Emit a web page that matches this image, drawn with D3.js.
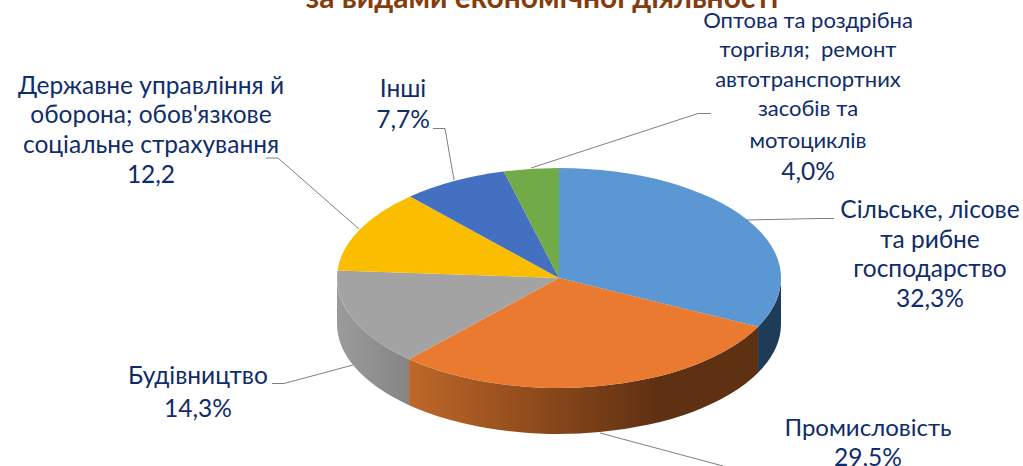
<!DOCTYPE html>
<html>
<head>
<meta charset="utf-8">
<script src="https://cdn.jsdelivr.net/npm/d3@7"></script>
<style>
  html, body { margin: 0; padding: 0; background: #fff; overflow: hidden; }
  svg { display: block; }
  .label { font-family: Lato, "Open Sans", sans-serif; fill: #0f2c6b; text-anchor: middle; }
  .leader { fill: none; stroke: #7f7f7f; stroke-width: 1; }
</style>
</head>
<body>
<script>
const categories = ['Сільське, лісове та рибне господарство', 'Промисловість', 'Будівництво',
  'Державне управління й оборона; обов\'язкове соціальне страхування', 'Інші',
  'Оптова та роздрібна торгівля; ремонт автотранспортних засобів та мотоциклів'];
const values = [32.3, 29.5, 14.3, 12.2, 7.7, 4.0];
const valueLabels = ['32,3%', '29,5%', '14,3%', '12,2', '7,7%', '4,0%'];
const colors = ['#5b98d3', '#e97a30', '#a3a3a3', '#fbbd00', '#4370c0', '#70ab47'];
const titleText = 'за видами економічної діяльності';

const width = 1023, height = 466;
const cx = 559, cy = 278, rx = 222, ry = 110, depth = 46;

const svg = d3.select(document.body).append('svg')
  .attr('width', width)
  .attr('height', height);

const defs = svg.append('defs');

function addGradient(id, stops) {
  const g = defs.append('linearGradient')
    .attr('id', id)
    .attr('gradientUnits', 'userSpaceOnUse')
    .attr('x1', cx - rx).attr('x2', cx + rx)
    .attr('y1', 0).attr('y2', 0);
  stops.forEach(s => g.append('stop').attr('offset', s[0]).attr('stop-color', s[1]));
}
addGradient('wall0', [[0, '#1f3c56'], [1, '#1f3c56']]);
addGradient('wall1', [[0.16, '#bf6829'], [0.5, '#854519'], [0.72, '#5f3113'], [1, '#5f3113']]);
addGradient('wall2', [[0, '#9b9b9b'], [0.16, '#858585']]);

const pie = d3.pie().sort(null).value(d => d);
const arcs = pie(values);

// pie angle -> point on the tilted top face
const px = a => cx + rx * Math.sin(a);
const py = a => cy - ry * Math.cos(a);

// only the front half of the rim is visible
const wallFrom = Math.PI / 2, wallTo = Math.PI * 1.5;
const wallPath = d => {
  const a0 = Math.max(d.startAngle, wallFrom), a1 = Math.min(d.endAngle, wallTo);
  if (a1 <= a0) return null;
  return `M${px(a0)},${py(a0)}A${rx},${ry} 0 0 1 ${px(a1)},${py(a1)}` +
    `L${px(a1)},${py(a1) + depth}A${rx},${ry} 0 0 0 ${px(a0)},${py(a0) + depth}Z`;
};

svg.selectAll('.wall')
  .data(arcs)
  .enter().append('path')
  .attr('class', 'wall')
  .attr('d', wallPath)
  .attr('fill', (d, i) => `url(#wall${i})`);

// top face: circular arcs squashed into an ellipse
const arc = d3.arc().innerRadius(0).outerRadius(rx);
svg.append('g')
  .attr('transform', `translate(${cx},${cy}) scale(1,${ry / rx})`)
  .selectAll('path')
  .data(arcs)
  .enter().append('path')
  .attr('d', arc)
  .attr('fill', (d, i) => colors[i]);

// leader lines
const leaders = [
  [[834, 218.5], [820, 218.5], [746, 220]],
  [[600, 433], [723, 466]],
  [[272, 383.5], [284, 383.5], [353, 365]],
  [[266, 158], [278, 158], [359, 229]],
  [[433, 128.5], [445, 128.5], [454, 180]],
  [[711, 113.5], [698, 113.5], [531, 168]]
];
svg.selectAll('.leader')
  .data(leaders)
  .enter().append('path')
  .attr('class', 'leader')
  .attr('d', d3.line());

// title is cut by the top edge in the original
svg.append('text')
  .attr('x', 542).attr('y', 8)
  .attr('text-anchor', 'middle')
  .style('font-family', 'Lato, "Open Sans", sans-serif')
  .style('font-weight', 700)
  .style('font-size', '30px')
  .style('fill', '#843c0c')
  .text(titleText);

// wrapped text of each label, as it breaks in the original
const labelLines = [
  { x: 930, size: 24.5, lines: [['Сільське, лісове', 218], ['та рибне', 248], ['господарство', 277], [valueLabels[0], 307]] },
  { x: 868, size: 24, lines: [['Промисловість', 436], [valueLabels[1], 466]] },
  { x: 198, size: 24.5, lines: [['Будівництво', 384], [valueLabels[2], 417]] },
  { x: 151, size: 24.5, lines: [['Державне управління й', 94], ['оборона; обов\'язкове', 123], ['соціальне страхування', 153], [valueLabels[3], 183]] },
  { x: 403, size: 24.5, lines: [['Інші', 97], [valueLabels[4], 128]] },
  { x: 808, size: 22, lines: [['Оптова та роздрібна', 28], ['торгівля;  ремонт', 57], ['автотранспортних', 87], ['засобів та', 116], ['мотоциклів', 148], [valueLabels[5], 180]] }
];

labelLines.forEach(l => {
  svg.selectAll(null)
    .data(l.lines)
    .enter().append('text')
    .attr('class', 'label')
    .attr('x', l.x)
    .attr('y', d => d[1])
    .style('font-size', (d, i) => (i === l.lines.length - 1 ? 24.5 : l.size) + 'px')
    .style('white-space', 'pre')
    .text(d => d[0]);
});
</script>
</body>
</html>
